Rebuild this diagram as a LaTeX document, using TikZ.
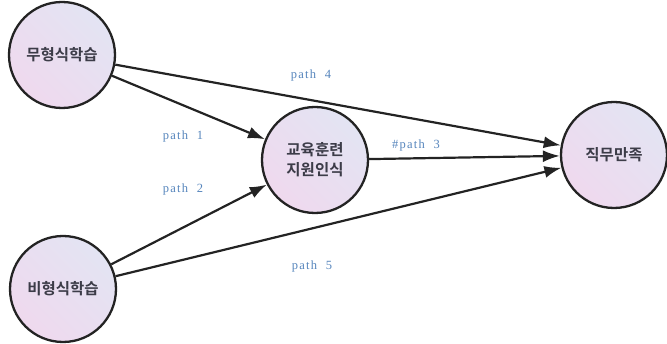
\documentclass[tikz,border=0pt]{standalone}
\usepackage{fontspec}
\newfontfamily\kofont[BoldFont={Noto Sans CJK KR Bold}]{Noto Sans CJK KR}
\newfontfamily\pathfont[LetterSpace=10]{Liberation Serif}
\usetikzlibrary{arrows.meta}
\definecolor{edge}{HTML}{232323}
\definecolor{pathblue}{HTML}{5685BC}
\definecolor{fillA}{HTML}{E3E4F3}
\definecolor{fillB}{HTML}{EFD9EE}
\definecolor{kotext}{HTML}{3C3C48}

\begin{document}
\begin{tikzpicture}[x=1pt,y=-1pt,
    var/.style={circle,draw=edge,line width=2.3pt,minimum size=106pt,inner sep=0pt,
      left color=fillA,right color=fillB,shading angle=-45,
      font=\kofont\bfseries\fontsize{15.5}{20}\selectfont,text=kotext,align=center},
    link/.style={draw=edge,line width=2.2pt,-{Latex[length=17pt,width=12pt]}},
    lbl/.style={text=pathblue,font=\pathfont\fontsize{12.5}{14}\selectfont}]
  \useasboundingbox (0,0) rectangle (667,344);
  % variables
  \node[var] (mu) at (62,55) {무형식학습};
  \node[var] (bi) at (63,289) {비형식학습};
  \node[var] (ed) at (315,160) {교육훈련\\지원인식};
  \node[var] (jm) at (614,155) {직무만족};
  % paths
  \draw[link] (mu) -- (ed);
  \draw[link] (bi) -- (ed);
  \draw[link] (ed) -- (jm);
  \draw[link] (mu) -- (jm);
  \draw[link] (bi) -- (jm);
  % path labels
  \node[lbl] (p1) at (183,136) {path\ \ 1};
  \node[lbl] (p2) at (183,189) {path\ \ 2};
  \node[lbl] (p3) at (416,145) {\#path\ \ 3};
  \node[lbl] (p4) at (311,75) {path\ \ 4};
  \node[lbl] (p5) at (312,266) {path\ \ 5};
\end{tikzpicture}
\end{document}
